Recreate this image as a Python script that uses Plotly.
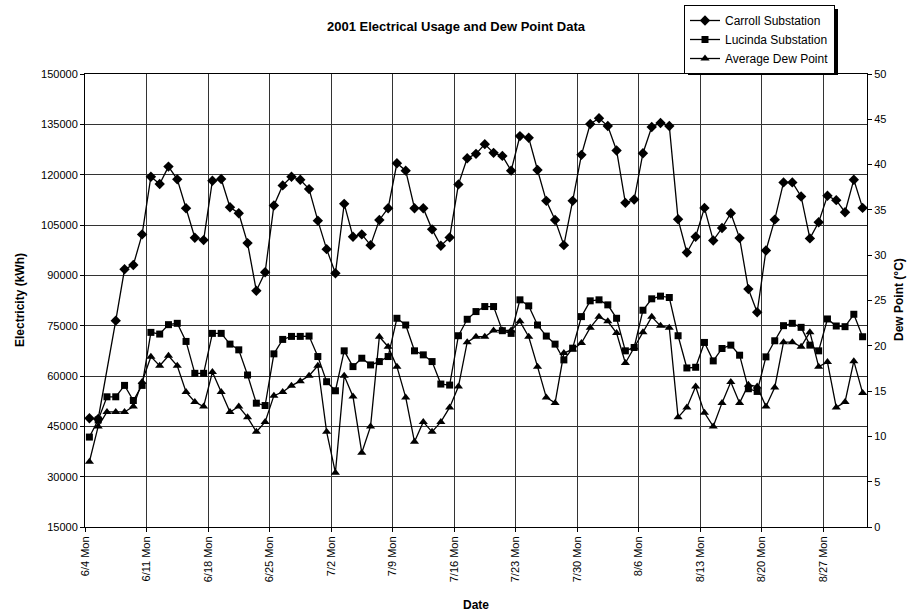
import pandas as pd
import plotly.graph_objects as go

start_date = "2001-06-04"
n_days = 89

carroll = [47400, 47200, None, 76500, 91800, 93100, 102200, 119400, 117200, 122400,
           118600, 110000, 101200, 100500, 118200, 118700, 110300, 108500, 99600, 85400,
           90900, 110800, 116800, 119400, 118500, 115700, 106300, 97800, 90600, 111300,
           101500, 102200, 99000, 106500, 110000, 123400, 121200, 110000, 110000, 103700,
           98800, 101300, 117100, 124900, 126200, 129100, 126500, 125600, 121200, 131500,
           131000, 121400, 112200, 106500, 99000, 112200, 125900, 135100, 136800, 134500,
           127200, 111600, 112600, 126400, 134200, 135400, 134500, 106700, 96800, 101500,
           110100, 100400, 104100, 108500, 101100, 85900, 79000, 97400, 106600, 117700,
           117700, 113500, 101000, 105800, 113700, 112400, 108800, 118500, 110100]

lucinda = [41800, 46900, 53800, 53800, 57200, 52700, 57200, 73000, 72500, 75300,
           75700, 70300, 60800, 60800, 72700, 72700, 69500, 67800, 60300, 51900,
           51200, 66600, 70900, 71800, 71800, 71900, 65800, 58300, 55600, 67500,
           62800, 65300, 63300, 64300, 65800, 77200, 75200, 67500, 66300, 64300,
           57600, 57300, 72000, 76900, 79200, 80700, 80700, 73500, 72700, 82700,
           80900, 75200, 71900, 69500, 64800, 68300, 77700, 82400, 82700, 81200,
           77200, 67500, 68500, 79600, 83000, 83800, 83400, 72000, 62400, 62600,
           70000, 64500, 68200, 69200, 66200, 56200, 55400, 65700, 70500, 75000,
           75700, 74500, 69200, 67500, 77000, 74900, 74700, 78400, 71700]

dew_point = [7.2, 11.1, 12.7, 12.7, 12.7, 13.3, 16.0, 18.8, 17.8, 18.9,
             17.8, 14.9, 13.8, 13.3, 17.1, 14.9, 12.7, 13.3, 12.1, 10.5,
             11.6, 14.5, 14.9, 15.6, 16.1, 16.7, 17.8, 10.5, 6.0, 16.7,
             14.4, 8.2, 11.1, 21.0, 19.9, 17.7, 14.3, 9.4, 11.6, 10.5,
             11.6, 13.2, 15.5, 20.4, 21.0, 21.0, 21.7, 21.7, 21.7, 22.7,
             21.0, 17.7, 14.3, 13.7, 19.2, 19.6, 20.3, 22.0, 23.2, 22.7,
             21.4, 18.1, 19.8, 21.5, 23.2, 22.2, 22.0, 12.1, 13.2, 15.5,
             12.6, 11.1, 13.7, 16.0, 13.7, 15.7, 15.5, 13.3, 15.4, 20.4,
             20.4, 19.9, 21.5, 17.7, 18.2, 13.2, 13.8, 18.3, 14.8]

tick_labels = ["6/4 Mon", "6/11 Mon", "6/18 Mon", "6/25 Mon", "7/2 Mon", "7/9 Mon",
               "7/16 Mon", "7/23 Mon", "7/30 Mon", "8/6 Mon", "8/13 Mon", "8/20 Mon",
               "8/27 Mon"]

dates = pd.date_range(start_date, periods=n_days, freq="D")
half_day = pd.Timedelta(hours=12)
tick_vals = [d - half_day for d in pd.date_range(start_date, periods=len(tick_labels), freq="7D")]

FONT = "Liberation Sans, Arial, sans-serif"
W, H = 912, 613
L, R, T, B = 85, 45, 74, 86
PW, PH = W - L - R, H - T - B


def px_x(px):
    return (px - L) / PW


def px_y(py):
    return (H - B - py) / PH


fig = go.Figure()
fig.add_trace(go.Scatter(x=dates, y=carroll, name="Carroll Substation", mode="lines+markers",
                         connectgaps=True,
                         line=dict(color="black", width=1.3),
                         marker=dict(symbol="diamond", size=8, color="black")))
fig.add_trace(go.Scatter(x=dates, y=lucinda, name="Lucinda Substation", mode="lines+markers",
                         line=dict(color="black", width=1.3),
                         marker=dict(symbol="square", size=7, color="black")))
fig.add_trace(go.Scatter(x=dates, y=dew_point, name="Average Dew Point", mode="lines+markers",
                         yaxis="y2",
                         line=dict(color="black", width=1.3),
                         marker=dict(symbol="triangle-up", size=8, color="black")))

# legend drop shadow (sits behind the legend box, offset down-right)
fig.add_shape(type="rect", xref="paper", yref="paper",
              x0=px_x(688), x1=px_x(838), y0=px_y(75), y1=px_y(9),
              fillcolor="black", line=dict(width=0), layer="above")

annots = [
    dict(text="<b>Date</b>", x=px_x(476), y=px_y(605), font=dict(size=12)),
    dict(text="<b>Electricity (kWh)</b>", x=px_x(20), y=px_y(300), textangle=-90, font=dict(size=12)),
    dict(text="<b>Dew Point (°C)</b>", x=px_x(899), y=px_y(300), textangle=-90, font=dict(size=12)),
]
for a in annots:
    a.update(xref="paper", yref="paper", showarrow=False, xanchor="center", yanchor="middle")

fig.update_layout(
    width=W, height=H,
    paper_bgcolor="white", plot_bgcolor="white",
    margin=dict(l=L, r=R, t=T, b=B, autoexpand=False),
    font=dict(family=FONT, size=11, color="black"),
    title=dict(text="<b>2001 Electrical Usage and Dew Point Data</b>",
               x=0.5, xanchor="center", y=1 - 26 / H, yanchor="middle",
               font=dict(size=13, family=FONT)),
    annotations=annots,
    showlegend=True,
    legend=dict(xref="container", yref="container", x=684 / W, y=1 - 5 / H,
                xanchor="left", yanchor="top",
                bgcolor="white", bordercolor="black", borderwidth=1,
                font=dict(size=12, family=FONT), tracegroupgap=0, itemwidth=30),
    xaxis=dict(
        range=[dates[0] - half_day, dates[-1] + half_day],
        tickmode="array", tickvals=tick_vals, ticktext=tick_labels,
        tickangle=-90, tickfont=dict(size=11), automargin=False,
        showgrid=True, gridcolor="#333", gridwidth=1,
        showline=True, linecolor="black", linewidth=1, mirror=True,
        ticks="outside", ticklen=4, tickcolor="black",
        zeroline=False,
    ),
    yaxis=dict(
        range=[15000, 150000], dtick=15000, tick0=15000, tickformat="d",
        automargin=False,
        showgrid=True, gridcolor="#333", gridwidth=1,
        showline=True, linecolor="black", linewidth=1, mirror=True,
        ticks="outside", ticklen=4, tickcolor="black",
        zeroline=False,
    ),
    yaxis2=dict(
        range=[0, 50], dtick=5, overlaying="y", side="right", automargin=False,
        showgrid=False, showline=True, linecolor="black", linewidth=1,
        ticks="outside", ticklen=4, tickcolor="black",
        zeroline=False,
    ),
)

fig.write_html("out.html", config={"displayModeBar": False},
               post_script="document.body.style.margin='0';")
